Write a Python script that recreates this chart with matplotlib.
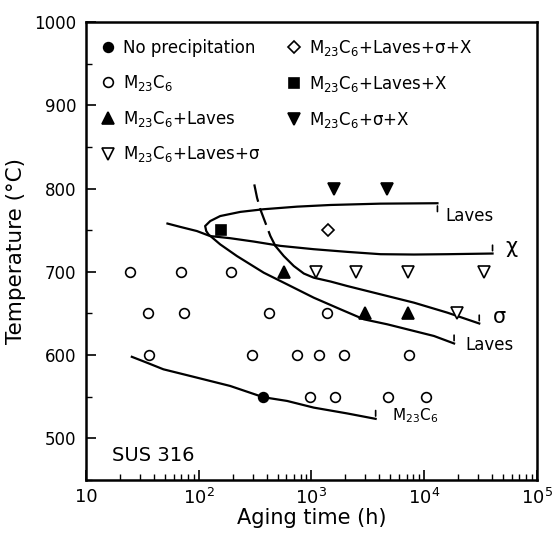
import matplotlib
matplotlib.use("Agg")
import matplotlib.pyplot as plt
from matplotlib.ticker import LogLocator, FixedLocator, NullFormatter, FuncFormatter
import numpy as np

plt.rcParams['font.family'] = ['DejaVu Sans']
plt.rcParams['mathtext.fontset'] = 'dejavusans'

M = r"M$_{23}$C$_{6}$"
SIG = "σ"

# ---- data points (aging time h, temperature C) ----
nop_t = [374]
nop_T = [550]

m23_t = [24.6, 70, 195, 35.3, 73.8, 424, 1387, 36.3, 297, 746, 1170, 1936, 7330, 966, 1626, 4744, 10370]
m23_T = [700, 700, 700, 650, 650, 650, 650, 600, 600, 600, 600, 600, 600, 550, 550, 550, 550]

ml_t = [575, 2958, 7180]
ml_T = [700, 650, 650]

mls_t = [1100, 2476, 7180, 34000, 19700]
mls_T = [700, 700, 700, 700, 650]

mlsx_t = [1397]
mlsx_T = [750]

mlx_t = [157]
mlx_T = [750]

msx_t = [1578, 4641]
msx_T = [800, 800]

# ---- boundary curves (aging time h, temperature C) ----
c_m23_t = [25.5, 34.6, 48.6, 96.3, 190, 374, 608, 1047, 2075, 3707]
c_m23_T = [598, 591, 583, 573, 563, 549.5, 545, 537, 530, 523.5]

c_laves_t = [13100, 4100, 1476, 746, 377, 234, 155, 126.5, 114, 116.6, 122, 155, 218, 377, 608, 1047, 1811, 2918, 4710, 8110, 12200, 18400]
c_laves_T = [782.4, 781.9, 780.3, 778.3, 775.2, 772, 767, 761, 755, 749, 745, 733, 719, 699, 685, 669, 655, 643, 637, 629, 623, 614]

c_chi_t = [52.8, 68.5, 96.3, 126, 190, 307, 530, 1047, 2075, 4100, 8110, 16060, 40360]
c_chi_T = [758, 754, 749, 743, 740.4, 736.4, 731.2, 727.2, 724, 721.2, 720.8, 721.2, 722]

c_sig_dash_t = [311, 329, 352, 390, 432, 479]
c_sig_dash_T = [805, 789, 775, 759, 743, 731]
c_sig_t = [479, 568, 697, 855, 1047, 1476, 2075, 4100, 8110, 16060, 30760]
c_sig_T = [731, 719, 707, 698, 693, 688.4, 683, 673, 663, 651, 638]

fig = plt.figure(figsize=(5.53, 5.34), dpi=100)
ax = fig.add_axes([0.1555, 0.101, 0.8155, 0.8578])
ax.set_xscale('log')
ax.set_xlim(10, 1e5)
ax.set_ylim(450, 1000)

lw = 1.6
ax.plot(c_m23_t, c_m23_T, color='black', lw=lw)
ax.plot(c_laves_t, c_laves_T, color='black', lw=lw)
ax.plot(c_chi_t, c_chi_T, color='black', lw=lw)
ax.plot(c_sig_dash_t, c_sig_dash_T, color='black', lw=lw, dashes=(8, 3))
ax.plot(c_sig_t, c_sig_T, color='black', lw=lw)

ms = 7
kw = dict(ls='none', color='black', mec='black', mew=1.2)
ax.plot(nop_t, nop_T, marker='o', ms=ms, label='No precipitation', **kw)
ax.plot(m23_t, m23_T, marker='o', ms=ms, mfc='white', label=M, **kw)
ax.plot(ml_t, ml_T, marker='^', ms=ms + 1, label=M + "+Laves", **kw)
ax.plot(mls_t, mls_T, marker='v', ms=ms + 1, mfc='white', label=M + "+Laves+" + SIG, **kw)
ax.plot(mlsx_t, mlsx_T, marker='D', ms=ms - 1, mfc='white', label=M + "+Laves+" + SIG + "+X", **kw)
ax.plot(mlx_t, mlx_T, marker='s', ms=ms, label=M + "+Laves+X", **kw)
ax.plot(msx_t, msx_T, marker='v', ms=ms + 1, label=M + "+" + SIG + "+X", **kw)

leg = ax.legend(ncol=2, loc='upper left', frameon=False, fontsize=12,
                handlelength=0.8, handletextpad=0.5, columnspacing=1.6,
                labelspacing=0.95, borderaxespad=0.55, bbox_to_anchor=(0.0, 1.0))

# end hooks and labels
def hook(t, T, up=True):
    d = 8 if up else -8
    ax.annotate('', xy=(t, T), xytext=(0, d), textcoords='offset points',
                xycoords='data',
                arrowprops=dict(arrowstyle='-', color='black', lw=1.2))

ends = [
    (c_laves_t[0], c_laves_T[0], False, "Laves", (6, -9), 12),
    (c_chi_t[-1], c_chi_T[-1], True, "χ", (9, 5), 15),
    (c_sig_t[-1], c_sig_T[-1], True, SIG, (10, 5), 15),
    (c_laves_t[-1], c_laves_T[-1], True, "Laves", (8, -1), 12),
    (c_m23_t[-1], c_m23_T[-1], True, M, (12, 2), 11),
]
for t, T, up, lab, off, fs in ends:
    hook(t, T, up)
    ax.annotate(lab, xy=(t, T), xytext=off, textcoords='offset points',
                fontsize=fs, va='center', ha='left')

ax.text(0.058, 0.033, "SUS 316", transform=ax.transAxes, fontsize=14, ha='left', va='bottom')

# ticks
ax.yaxis.set_major_locator(FixedLocator([500, 600, 700, 800, 900, 1000]))
ax.yaxis.set_minor_locator(FixedLocator([450, 550, 650, 750, 850, 950]))
ax.xaxis.set_major_locator(LogLocator(base=10, numticks=10))
ax.xaxis.set_minor_locator(LogLocator(base=10, subs=np.arange(2, 10), numticks=20))
ax.xaxis.set_minor_formatter(NullFormatter())

def xfmt(v, pos):
    e = int(round(np.log10(v)))
    return "10" if e == 1 else r"$10^{%d}$" % e
ax.xaxis.set_major_formatter(FuncFormatter(xfmt))

ax.tick_params(axis='both', which='major', direction='in', length=7, width=1.2)
ax.tick_params(axis='y', which='major', labelsize=12, pad=7)
ax.tick_params(axis='x', which='major', labelsize=13, pad=6)
ax.tick_params(axis='both', which='minor', direction='in', length=4, width=1.0)
for s in ax.spines.values():
    s.set_linewidth(1.8)

ax.set_xlabel("Aging time (h)", fontsize=15, labelpad=0)
ax.set_ylabel("Temperature (°C)", fontsize=15.5, labelpad=6)

fig.savefig("out.png", dpi=100)
